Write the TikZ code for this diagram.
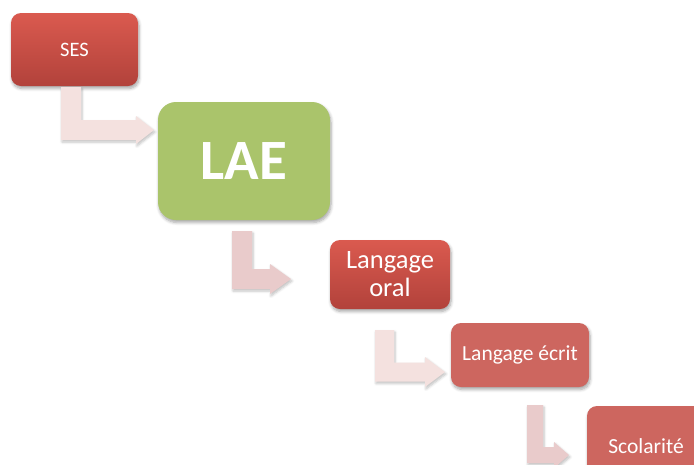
\documentclass[tikz,border=0pt]{standalone}
\usepackage{fontspec}
\setmainfont{Carlito}
\usetikzlibrary{calc,shadows.blur}
\definecolor{sesTop}{HTML}{DA5A4F}
\definecolor{sesBot}{HTML}{B2423B}
\definecolor{laeG}{HTML}{AAC46B}
\definecolor{ecr}{HTML}{CD665F}
\definecolor{arrA}{HTML}{F4E1DF}
\definecolor{arrB}{HTML}{E9CBCB}
\tikzset{
  box/.style={rectangle, rounded corners=10pt, inner sep=0pt, outer sep=0pt,
    anchor=north west, text=white, align=center,
    blur shadow={shadow xshift=1pt, shadow yshift=-2.5pt, shadow blur steps=6,
      shadow blur radius=3pt, shadow opacity=35}},
  redbox/.style={box, top color=sesTop, bottom color=sesBot},
  greenbox/.style={box, fill=laeG, rounded corners=18pt},
  flatbox/.style={box, fill=ecr},
  arrowshape/.style={blur shadow={shadow xshift=1pt, shadow yshift=-2pt,
      shadow blur steps=5, shadow blur radius=2.5pt, shadow opacity=25}},
}
% #1 style, #2 start (top-left of vertical bar), #3 tip, #4 bar width, #5 head length, #6 head half height
\newcommand\bentarr[6]{%
  \fill[#1] let \p1=(#2), \p2=(#3) in
    (\x1,\y1) -- (\x1+#4pt,\y1) -- (\x1+#4pt,\y2+#4pt/2) -- (\x2-#5pt,\y2+#4pt/2)
    -- (\x2-#5pt,\y2+#6pt) -- (\x2,\y2) -- (\x2-#5pt,\y2-#6pt)
    -- (\x2-#5pt,\y2-#4pt/2) -- (\x1,\y2-#4pt/2) -- cycle;}
\begin{document}
\begin{tikzpicture}[x=1pt,y=-1pt]
  \useasboundingbox (0,0) rectangle (694,464);
  \clip (0,0) rectangle (694,464);

  \node[redbox, minimum width=127pt, minimum height=73pt, font=\fontsize{20.5}{24}\selectfont]
    (ses) at (11,13) {SES};
  \node[greenbox, minimum width=172pt, minimum height=118pt, font=\fontsize{57}{64}\selectfont\bfseries]
    (lae) at (158,102) {LAE};
  \node[redbox, minimum width=120pt, minimum height=69pt, font=\fontsize{26.5}{28}\selectfont]
    (oral) at (330,240) {Langage\\oral};
  \node[flatbox, minimum width=138pt, minimum height=64pt, font=\fontsize{21.5}{25}\selectfont]
    (ecrit) at (451,323) {Langage écrit};
  \node[flatbox, minimum width=118pt, minimum height=80pt, font=\fontsize{21.5}{25}\selectfont]
    (scol) at (587,406) {Scolarité};

  \coordinate (a1s) at ($(ses.south west)+(50,1)$);
  \coordinate (a1t) at ($(lae.north west)+(-4,28)$);
  \coordinate (a2s) at ($(lae.south west)+(74,11)$);
  \coordinate (a2t) at ($(oral.north west)+(-39,39)$);
  \coordinate (a3s) at ($(oral.south west)+(45,21)$);
  \coordinate (a3t) at ($(ecrit.north west)+(-6,49)$);
  \coordinate (a4s) at ($(ecrit.south west)+(76,18)$);
  \coordinate (a4t) at ($(scol.north west)+(-18,49)$);

  \bentarr{arrA, arrowshape}{a1s}{a1t}{20}{18}{14}
  \bentarr{arrB, arrowshape}{a2s}{a2t}{20}{21}{15}
  \bentarr{arrA, arrowshape}{a3s}{a3t}{19}{20}{15}
  \bentarr{arrB, arrowshape}{a4s}{a4t}{16}{15}{13}
\end{tikzpicture}
\end{document}
